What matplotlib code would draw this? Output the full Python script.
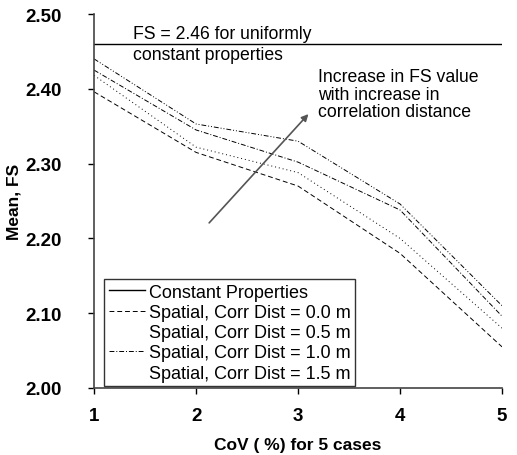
import matplotlib

matplotlib.use("Agg")
import matplotlib.pyplot as plt  # noqa: E402
from matplotlib.lines import Line2D  # noqa: E402

plt.rcParams["font.family"] = ["Liberation Sans", "DejaVu Sans"]

cov_cases = [1, 2, 3, 4, 5]
constant_fs = 2.46
fs_cd_00 = [2.396, 2.315, 2.270, 2.180, 2.055]
fs_cd_05 = [2.418, 2.322, 2.288, 2.200, 2.080]
fs_cd_10 = [2.425, 2.345, 2.302, 2.238, 2.096]
fs_cd_15 = [2.440, 2.353, 2.330, 2.246, 2.110]
y_ticks = [2.00, 2.10, 2.20, 2.30, 2.40, 2.50]

fig = plt.figure(figsize=(5.17, 4.56), dpi=100)
ax = fig.add_axes([0.182, 0.147, 0.789, 0.820])

ax.axhline(constant_fs, color="black", linewidth=1.0)
l00, = ax.plot(cov_cases, fs_cd_00, color="black", linewidth=0.7,
               linestyle=(0, (5, 3)))
l05, = ax.plot(cov_cases, fs_cd_05, color="black", linewidth=0.7,
               linestyle=(0, (1, 3)))
l10, = ax.plot(cov_cases, fs_cd_10, color="black", linewidth=0.7,
               linestyle=(0, (5, 2, 1, 2)))
l15, = ax.plot(cov_cases, fs_cd_15, color="black", linewidth=0.7,
               linestyle=(0, (5, 2, 1, 2, 1, 2)))

ax.set_xlim(1, 5)
ax.set_ylim(2.0, 2.5)
ax.set_xticks(cov_cases)
ax.set_yticks(y_ticks)
ax.set_yticklabels([f"{v:.2f}" for v in y_ticks])
for lbl in ax.get_xticklabels() + ax.get_yticklabels():
    lbl.set_fontweight("bold")
    lbl.set_fontsize(13.5)
ax.tick_params(axis="x", direction="out", length=4, width=1, pad=10)
ax.tick_params(axis="y", direction="out", length=4, width=1, pad=19)
for side in ("top", "right"):
    ax.spines[side].set_visible(False)
for side in ("left", "bottom"):
    ax.spines[side].set_linewidth(1.2)
    ax.spines[side].set_color("#444444")

ax.set_xlabel("CoV ( %) for 5 cases", fontweight="bold", fontsize=12.5,
              labelpad=9)
ax.set_ylabel("Mean, FS", fontweight="bold", fontsize=12.5, labelpad=3)

ax.text(1.38, 2.462, "FS = 2.46 for uniformly", fontsize=12.7,
        va="bottom", ha="left")
ax.text(1.38, 2.457, "constant properties", fontsize=12.7,
        va="top", ha="left")
ax.text(3.2, 2.393, "Increase in FS value\nwith increase in\ncorrelation distance",
        fontsize=12.7, va="center", ha="left", linespacing=1.05)
ax.annotate("", xy=(3.12, 2.369), xytext=(2.11, 2.218),
            arrowprops=dict(arrowstyle="-|>", color="#555555", lw=1.2,
                            mutation_scale=10))

handles = [
    Line2D([], [], color="black", linewidth=1.0),
    l00,
    Line2D([], [], linestyle="none"),
    l10,
    Line2D([], [], linestyle="none"),
]
labels = [
    "Constant Properties",
    "Spatial, Corr Dist = 0.0 m",
    "Spatial, Corr Dist = 0.5 m",
    "Spatial, Corr Dist = 1.0 m",
    "Spatial, Corr Dist = 1.5 m",
]
leg = ax.legend(handles, labels, loc="lower left",
                bbox_to_anchor=(0.025, 0.005), fontsize=13, frameon=True,
                fancybox=False, edgecolor="black", handlelength=2.0,
                handletextpad=0.2, labelspacing=0.18, borderpad=0.25,
                borderaxespad=0.0)
leg.get_frame().set_linewidth(1.0)

fig.savefig("out.png", dpi=100)
